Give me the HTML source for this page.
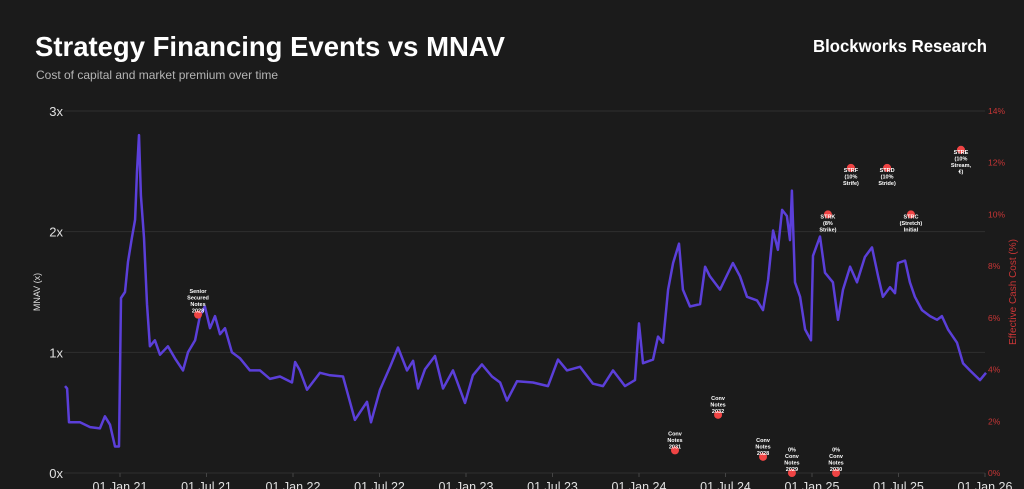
<!DOCTYPE html>
<html><head><meta charset="utf-8"><style>
body{margin:0;background:#1b1b1b;width:1024px;height:489px;overflow:hidden;font-family:"Liberation Sans",sans-serif}
</style></head><body>
<svg id="chart" width="1024" height="489" xmlns="http://www.w3.org/2000/svg" style="display:block">
<rect width="1024" height="489" fill="#1b1b1b"/>
<text x="35" y="56" fill="#fff" font-size="27.5" font-weight="bold" textLength="470" lengthAdjust="spacingAndGlyphs" font-family="Liberation Sans, sans-serif">Strategy Financing Events vs MNAV</text>
<text x="36" y="79" fill="#b5b5b5" font-size="12" font-family="Liberation Sans, sans-serif">Cost of capital and market premium over time</text>
<text x="987" y="52" fill="#fff" font-size="17.5" font-weight="bold" text-anchor="end" textLength="174" lengthAdjust="spacingAndGlyphs" font-family="Liberation Sans, sans-serif">Blockworks Research</text>
<g id="grid"></g><g id="axes"></g><g id="series"></g><g id="events"></g>
<text transform="translate(40,292) rotate(-90)" fill="#ddd" font-size="9" text-anchor="middle" font-family="Liberation Sans, sans-serif">MNAV (x)</text>
<text transform="translate(1016,292) rotate(-90)" fill="#c93636" font-size="10" text-anchor="middle" font-family="Liberation Sans, sans-serif">Effective Cash Cost (%)</text>
</svg>
<script>
const dates=[2020.682,2020.694,2020.705,2020.769,2020.827,2020.884,2020.913,2020.942,2020.971,2020.994,2021.006,2021.029,2021.046,2021.069,2021.087,2021.098,2021.110,2021.121,2021.139,2021.156,2021.173,2021.202,2021.231,2021.277,2021.318,2021.364,2021.393,2021.434,2021.462,2021.491,2021.520,2021.549,2021.578,2021.607,2021.647,2021.694,2021.751,2021.809,2021.867,2021.925,2021.994,2022.012,2022.040,2022.081,2022.156,2022.214,2022.289,2022.358,2022.428,2022.451,2022.503,2022.561,2022.607,2022.659,2022.694,2022.723,2022.763,2022.821,2022.867,2022.925,2022.994,2023.040,2023.092,2023.150,2023.197,2023.237,2023.295,2023.387,2023.474,2023.532,2023.584,2023.659,2023.734,2023.792,2023.850,2023.919,2023.977,2024.000,2024.023,2024.081,2024.110,2024.139,2024.168,2024.197,2024.231,2024.254,2024.295,2024.353,2024.382,2024.410,2024.468,2024.543,2024.584,2024.624,2024.682,2024.717,2024.746,2024.775,2024.803,2024.827,2024.855,2024.873,2024.884,2024.902,2024.931,2024.960,2024.994,2025.006,2025.046,2025.075,2025.121,2025.150,2025.179,2025.220,2025.260,2025.306,2025.347,2025.382,2025.410,2025.451,2025.480,2025.497,2025.538,2025.566,2025.595,2025.636,2025.682,2025.723,2025.751,2025.786,2025.838,2025.873,2025.913,2025.971,2026.006];
const mnav=[0.72,0.70,0.42,0.42,0.38,0.37,0.47,0.40,0.22,0.22,1.45,1.5,1.75,1.95,2.1,2.5,2.8,2.3,1.95,1.4,1.05,1.1,0.98,1.05,0.95,0.85,1.0,1.1,1.3,1.38,1.2,1.3,1.15,1.2,1.0,0.95,0.85,0.85,0.78,0.80,0.75,0.92,0.85,0.69,0.83,0.81,0.80,0.44,0.59,0.42,0.69,0.88,1.04,0.85,0.93,0.70,0.86,0.97,0.70,0.85,0.58,0.81,0.90,0.80,0.75,0.60,0.76,0.75,0.72,0.94,0.85,0.88,0.74,0.72,0.85,0.72,0.77,1.24,0.91,0.94,1.13,1.08,1.52,1.74,1.90,1.52,1.38,1.40,1.71,1.63,1.52,1.74,1.63,1.46,1.43,1.35,1.60,2.01,1.85,2.18,2.13,1.93,2.34,1.58,1.46,1.19,1.10,1.80,1.96,1.66,1.58,1.27,1.52,1.71,1.58,1.79,1.87,1.63,1.46,1.54,1.49,1.74,1.76,1.58,1.46,1.35,1.30,1.27,1.30,1.19,1.08,0.91,0.85,0.77,0.83];
const eventDates=[2021.451,2024.208,2024.457,2024.717,2024.884,2025.139,2025.092,2025.225,2025.434,2025.572,2025.861];
const eventCost=[6.125,0.875,2.25,0.625,0,0,10,11.8,11.8,10,12.5];
const eventLabels=[["Senior","Secured","Notes","2028"],["Conv","Notes","2031"],["Conv","Notes","2032"],["Conv","Notes","2028"],["0%","Conv","Notes","2029"],["0%","Conv","Notes","2030"],["STRK","(8%","Strike)"],["STRF","(10%","Strife)"],["STRD","(10%","Stride)"],["STRC","(Stretch)","Initial"],["STRE","(10%","Stream,","€)"]];
const eventAbove=[true,true,true,true,true,true,false,false,false,false,false];
const yTicks=[0,1,2,3];
const y2Ticks=[0,2,4,6,8,10,12,14];
const xTickLabels=["01 Jan 21","01 Jul 21","01 Jan 22","01 Jul 22","01 Jan 23","01 Jul 23","01 Jan 24","01 Jul 24","01 Jan 25","01 Jul 25","01 Jan 26"];
const xTickDates=[2021,2021.5,2022,2022.5,2023,2023.5,2024,2024.5,2025,2025.5,2026];

const NS="http://www.w3.org/2000/svg";
const L=64,R=985,T=111,B=473;
const x=d=>120+(d-2021)*173;
const y=v=>B-(v/3)*(B-T);
const y2=v=>B-(v/14)*(B-T);
function mk(tag,attrs,parent){const e=document.createElementNS(NS,tag);for(const k in attrs)e.setAttribute(k,attrs[k]);document.getElementById(parent).appendChild(e);return e;}
yTicks.forEach(t=>{
  const g=mk("line",{x1:L,x2:R,y1:y(t),y2:y(t),stroke:"#2f2f2f","stroke-width":1},"grid");
  
  
  const tx=mk("text",{x:L-1,y:y(t)+5,fill:"#e0e0e0","font-size":13,"text-anchor":"end","font-family":"Liberation Sans, sans-serif"},"axes");
  tx.textContent=t+"x";
  
  
});
y2Ticks.forEach(t=>{
  const tx=mk("text",{x:988,y:y2(t)+3,fill:"#c93636","font-size":8.5,"font-family":"Liberation Sans, sans-serif"},"axes");
  tx.textContent=t+"%";
  
  
});
xTickDates.forEach((d,i)=>{
  const tk=mk("line",{x1:x(d),x2:x(d),y1:B,y2:B+4,stroke:"#444"},"axes");
  
  
  const tx=mk("text",{x:x(d),y:491,fill:"#e0e0e0","font-size":12.5,"text-anchor":"middle","font-family":"Liberation Sans, sans-serif"},"axes");
  tx.textContent=xTickLabels[i];
  
  
});
const p=mk("path",{d:dates.map((d,i)=>(i?"L":"M")+x(d).toFixed(1)+","+y(mnav[i]).toFixed(1)).join(""),fill:"none",stroke:"#5b3fd9","stroke-width":2.5,"stroke-linejoin":"round"},"series");


eventDates.forEach((d,i)=>{
  const cx=x(d),cy=y2(eventCost[i]);
  const c=mk("circle",{cx:cx,cy:cy,r:4,fill:"#f04444"},"events");
  
  
  const lines=eventLabels[i];
  const start=eventAbove[i]?cy-2-(lines.length-1)*6.5:cy+4;
  lines.forEach((s,j)=>{
    const t=mk("text",{x:cx,y:start+j*6.5,fill:"#fff","font-size":5.5,"font-weight":"bold","text-anchor":"middle","font-family":"Liberation Sans, sans-serif"},"events");
    t.textContent=s;
    
    
  });
});
</script>
</body></html>
